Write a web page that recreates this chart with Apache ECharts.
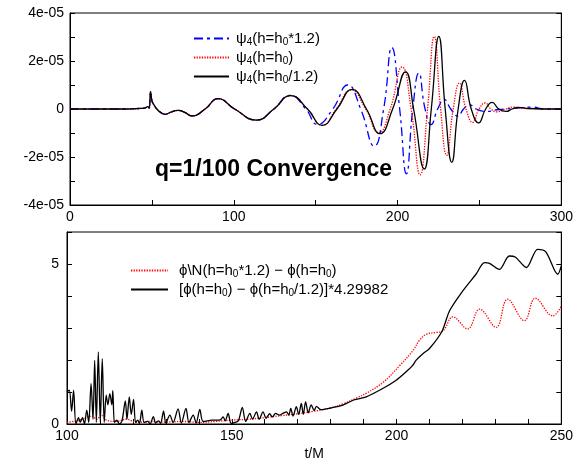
<!DOCTYPE html>
<html>
<head>
<meta charset="utf-8">
<title>q=1/100 Convergence</title>
<script src="https://cdn.jsdelivr.net/npm/echarts/dist/echarts.min.js"></script>
<style>
    html, body { margin: 0; padding: 0; background: #fff; }
    #chart { width: 576px; height: 463px; }
</style>
</head>
<body>
<div id="chart"></div>
<script>
// 上图: psi4 波形, 单位 1e-5, [t/M, value]
var psiCoarse = [
    [0, 0], [35, 0], [42, 0.02], [46, 0.05], [47.5, 0.1], [48.3, 0.03], [49.2, 0.72], [50, 0.35],
    [51, 0.2], [53, 0], [55.5, -0.15], [58, -0.22], [62, -0.12], [66, -0.06], [70, -0.14],
    [74.5, -0.29], [82.5, 0], [90.4, 0.43], [100.5, 0], [113.8, -0.46], [124.5, 0], [134.3, 0.57],
    [144, 0], [151, -0.64], [160.5, 0], [169.6, 1.0], [177.5, 0], [185.8, -1.55], [191.5, 0],
    [196.5, 2.56], [201.3, 0], [205.4, -2.7], [209.3, 0], [213, 1.5], [216.8, 0], [220.5, -0.65],
    [224.5, 0], [228.5, 0.4], [232.5, 0], [236.8, -0.3], [240.3, 0], [243.9, 0.18], [248, 0],
    [254, -0.1], [262, -0.02], [270, 0.02], [282, 0.08], [290, 0], [300, 0]
];
var psiMedium = [
    [0, 0], [35, 0], [42, 0.02], [46, 0.05], [47.5, 0.1], [48.3, 0.03], [49.2, 0.72], [50, 0.35],
    [51, 0.2], [53, 0], [55.5, -0.15], [58, -0.22], [62, -0.12], [66, -0.06], [70, -0.14],
    [74.5, -0.29], [82.5, 0], [90.4, 0.43], [100.5, 0], [113.8, -0.46], [124.5, 0], [134.7, 0.56],
    [145, 0], [154, -0.68], [162.5, 0], [171.7, 0.79], [180.5, 0], [188.5, -0.99], [195.5, 0],
    [202.8, 1.75], [208.3, 0], [213.8, -2.74], [218.3, 0], [222.4, 3.02], [226.3, 0], [230, -1.93],
    [234, 0], [237.8, 1.08], [241.8, 0], [245.9, -0.56], [249.8, 0], [253.5, 0.25], [257, 0],
    [260.5, -0.12], [266, 0], [271, 0.08], [278, 0.02], [300, 0]
];
var psiFine = [
    [0, 0], [35, 0], [42, 0.02], [46, 0.05], [47.5, 0.1], [48.3, 0.03], [49.2, 0.72], [50, 0.35],
    [51, 0.2], [53, 0], [55.5, -0.15], [58, -0.22], [62, -0.12], [66, -0.06], [70, -0.14],
    [74.5, -0.29], [82.5, 0], [90.4, 0.43], [100.5, 0], [113.8, -0.46], [124.5, 0], [134.7, 0.56],
    [145, 0], [154, -0.68], [163, 0], [172.3, 0.82], [181, 0], [189.3, -1.03], [197, 0],
    [204.9, 1.55], [209.8, 0], [216.3, -2.5], [220.6, 0], [225.2, 3.03], [229.1, 0], [233.1, -2.22],
    [237, 0], [240.9, 1.19], [245, 0], [249.5, -0.58], [253.8, 0], [257.7, 0.28], [261.8, 0],
    [266.3, -0.1], [270, 0], [274, 0.07], [280, 0.02], [290, 0], [300, 0]
];

// 下图: 相位差, [t/M, value]
var phiDiffCoarse = [
    [100, 0.05], [103, 0.1], [106, 0.2], [107.5, 0.25], [109, 0.15], [110.5, 0.28], [112, 0.12],
    [115, 0.08], [118, 0.15], [121, 0.05], [125, 0.08], [130, 0.06], [135, 0.08], [140, 0.05],
    [145, 0.08], [150, 0.12], [155, 0.15], [160, 0.2], [165, 0.26], [170, 0.32], [175, 0.4],
    [180, 0.5], [184, 0.64], [188, 0.82], [191, 0.97], [196, 1.31], [201, 1.83], [205, 2.3],
    [207, 2.62], [209, 2.8], [212, 2.86], [214, 2.9], [217.1, 3.35], [221.6, 2.97], [225.2, 3.59],
    [230.2, 3.02], [233.7, 3.9], [238.8, 3.23], [242.1, 3.93], [247.4, 3.38], [250, 3.68]
];
var phiDiffFine = [
    [100, 1.0], [100.7, 1.06], [101.4, 0.4], [102, 1.06], [102.7, 0], [103.5, 0.2], [104, 0.05],
    [104.7, 0.2], [105.3, 0], [106, 0.43], [106.6, 0.05], [107.3, 1.26], [107.9, 0.15], [108.4, 1.99],
    [108.9, 0.05], [109.5, 2.25], [110.1, 0.05], [110.7, 2.04], [111.3, 0.05], [111.9, 0.9],
    [112.4, 0.6], [113, 0.95], [113.6, 0.6], [113.9, 1.04], [114.4, 0.05], [115.1, 0.12], [115.9, 0],
    [116.7, 0.1], [117.7, 0.72], [118.2, 0.15], [118.9, 0.85], [119.5, 0.3], [120.2, 0.77],
    [120.8, 0.05], [121.5, 0.12], [122, 0.02], [122.7, 0.43], [123.4, 0.05], [124.5, 0.08],
    [125.2, 0], [126.2, 0.23], [126.9, 0.03], [127.8, 0.1], [128.4, 0.02], [129.3, 0.4], [130, 0.03],
    [131.2, 0.28], [132.2, 0.05], [133.7, 0.47], [134.7, 0.03], [136.1, 0.49], [137, 0.05],
    [138.3, 0.28], [139.2, 0.03], [140.3, 0.46], [141.3, 0.08], [144, 0.12], [146.5, 0.13],
    [147.4, 0.22], [148, 0.1], [148.9, 0.33], [149.8, 0.02], [151, 0.05], [152, 0.1], [153.2, 0.52],
    [154.2, 0.08], [155.5, 0.33], [156.3, 0.15], [157.5, 0.38], [158.3, 0.15], [159.5, 0.38],
    [160.4, 0.18], [161.5, 0.32], [162.3, 0.22], [163.3, 0.33], [164.5, 0.28], [165.5, 0.33],
    [166.6, 0.38], [167.3, 0.28], [167.9, 0.49], [168.6, 0.25], [169.6, 0.54], [170.3, 0.3],
    [171.1, 0.64], [171.7, 0.3], [172.4, 0.69], [173.2, 0.35], [174.1, 0.6], [175, 0.42],
    [175.7, 0.55], [177, 0.45], [180, 0.5], [183.7, 0.59], [187, 0.75], [190.8, 0.85], [195.8, 1.11],
    [199.9, 1.37], [202.9, 1.63], [204.9, 1.83], [205.9, 1.99], [207.9, 2.19], [210, 2.36],
    [213.8, 2.9], [216.1, 3.54], [220.1, 4.16], [224.1, 4.68], [226.7, 5.04], [228.2, 5.02],
    [231.2, 4.83], [234.2, 5.25], [236, 5.22], [239.4, 4.89], [242.8, 5.46], [245.3, 5.38],
    [248.9, 4.68], [250, 4.94]
];

// 图例文字 (带下标)
var legendText = {
    psiCoarse: '{t|ψ}{s|4}{t|(h=h}{s|0}{t|*1.2)}',
    psiMedium: '{t|ψ}{s|4}{t|(h=h}{s|0}{t|)}',
    psiFine: '{t|ψ}{s|4}{t|(h=h}{s|0}{t|/1.2)}',
    phiDiffCoarse: '{t|ϕ\\N(h=h}{s|0}{t|*1.2) − ϕ(h=h}{s|0}{t|)}',
    phiDiffFine: '{t|[ϕ(h=h}{s|0}{t|) − ϕ(h=h}{s|0}{t|/1.2)]*4.29982}'
};

var font = 'Liberation Sans, Arial, Helvetica, sans-serif';
var richText = {
    t: { fontSize: 15, lineHeight: 18, color: '#000', fontFamily: font },
    s: { fontSize: 10, lineHeight: 10, color: '#000', fontFamily: font, verticalAlign: 'bottom' }
};

var chart = echarts.init(document.getElementById('chart'), null, { renderer: 'canvas' });

//坐标轴通用配置: 刻度朝内, 黑色
function tickAxis(extra) {
    var base = {
        type: 'value',
        axisLine: { show: true, onZero: false, lineStyle: { color: '#000', width: 1 } },
        axisTick: { show: true, inside: true, length: 5, lineStyle: { color: '#000' } },
        splitLine: { show: false },
        axisLabel: { color: '#000', fontSize: 14, fontFamily: font, margin: 5 }
    };
    for (var k in extra) base[k] = extra[k];
    return base;
}

var option = {
    animation: false,
    backgroundColor: '#fff',
    title: {
        text: 'q=1/100 Convergence',
        left: 150,
        top: 153,
        textStyle: { fontSize: 23, fontWeight: 'bold', color: '#000', fontFamily: font }
    },
    grid: [
        { left: 70, right: 14, top: 13, height: 192, show: true, borderColor: '#000', borderWidth: 1 },
        { left: 67, right: 14, top: 232, height: 192, show: true, borderColor: '#000', borderWidth: 1 }
    ],
    xAxis: [
        tickAxis({ gridIndex: 0, min: 0, max: 300, interval: 50,
            axisLabel: { color: '#000', fontSize: 14, fontFamily: font, margin: 5,
                formatter: function (v) { return v % 100 === 0 ? String(v) : ''; } } }),
        tickAxis({ gridIndex: 1, min: 100, max: 250, interval: 10,
            name: 't/M', nameLocation: 'middle', nameGap: 23,
            nameTextStyle: { color: '#000', fontSize: 14, fontFamily: font },
            axisLabel: { color: '#000', fontSize: 14, fontFamily: font, margin: 5,
                formatter: function (v) { return v % 50 === 0 ? String(v) : ''; } } })
    ],
    yAxis: [
        tickAxis({ gridIndex: 0, min: -4, max: 4, interval: 1,
            axisLabel: { color: '#000', fontSize: 14, fontFamily: font, margin: 6,
                formatter: function (v) {
                    if (v === 0) return '0';
                    if (v % 2 !== 0) return '';
                    return (v < 0 ? '-' : '') + Math.abs(v) + 'e-05';
                } } }),
        tickAxis({ gridIndex: 0, min: -4, max: 4, interval: 1, position: 'right',
            axisLabel: { show: false } }),
        tickAxis({ gridIndex: 1, min: 0, max: 6, interval: 1,
            axisLabel: { color: '#000', fontSize: 14, fontFamily: font, margin: 8,
                formatter: function (v) { return (v === 0 || v === 5) ? String(v) : ''; } } }),
        tickAxis({ gridIndex: 1, min: 0, max: 6, interval: 1, position: 'right',
            axisLabel: { show: false } })
    ],
    legend: [
        {
            id: 'legendTop',
            data: ['psiCoarse', 'psiMedium', 'psiFine'],
            orient: 'vertical', left: 193, top: 31, padding: 0,
            itemWidth: 35, itemHeight: 10, itemGap: 2.5,
            itemStyle: { opacity: 0 },
            formatter: function (name) { return legendText[name]; },
            textStyle: { rich: richText, padding: [0, 0, 0, 2] }
        },
        {
            id: 'legendBottom',
            data: ['phiDiffCoarse', 'phiDiffFine'],
            orient: 'vertical', left: 130, top: 263, padding: 0,
            itemWidth: 37, itemHeight: 10, itemGap: 2.5,
            itemStyle: { opacity: 0 },
            formatter: function (name) { return legendText[name]; },
            textStyle: { rich: richText, padding: [0, 0, 0, 6] }
        }
    ],
    series: [
        {
            name: 'psiCoarse', type: 'line', xAxisIndex: 0, yAxisIndex: 0,
            data: psiCoarse, smooth: 0.5, symbol: 'none', z: 2,
            lineStyle: { color: '#0000ff', width: 1.3, type: [9, 4, 3, 4] },
            itemStyle: { color: '#0000ff' }
        },
        {
            name: 'psiMedium', type: 'line', xAxisIndex: 0, yAxisIndex: 0,
            data: psiMedium, smooth: 0.5, symbol: 'none', z: 3,
            lineStyle: { color: '#ff0000', width: 1.3, type: [1.3, 1.3] },
            itemStyle: { color: '#ff0000' }
        },
        {
            name: 'psiFine', type: 'line', xAxisIndex: 0, yAxisIndex: 0,
            data: psiFine, smooth: 0.5, symbol: 'none', z: 4,
            lineStyle: { color: '#000', width: 1.3 },
            itemStyle: { color: '#000' }
        },
        {
            name: 'phiDiffCoarse', type: 'line', xAxisIndex: 1, yAxisIndex: 2,
            data: phiDiffCoarse, smooth: 0.4, symbol: 'none', z: 3,
            lineStyle: { color: '#ff0000', width: 1.3, type: [1.3, 1.3] },
            itemStyle: { color: '#ff0000' }
        },
        {
            name: 'phiDiffFine', type: 'line', xAxisIndex: 1, yAxisIndex: 2,
            data: phiDiffFine, smooth: 0.3, symbol: 'none', z: 4,
            lineStyle: { color: '#000', width: 1.3 },
            itemStyle: { color: '#000' }
        }
    ]
};

chart.setOption(option);
</script>
</body>
</html>
